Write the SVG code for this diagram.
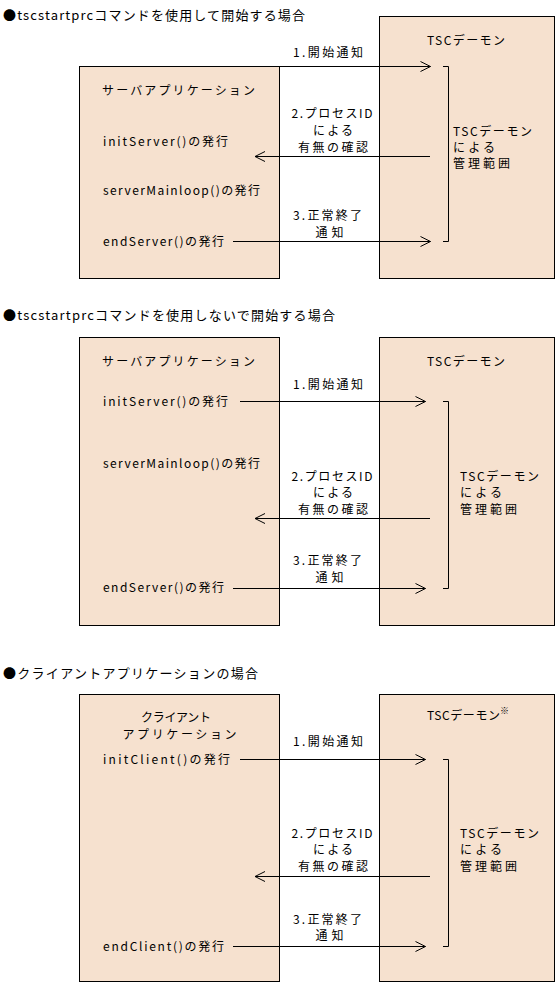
<svg xmlns="http://www.w3.org/2000/svg" width="557" height="985" viewBox="0 0 557 985">
<style>
  .box { fill: #F6E1CF; stroke: #000; stroke-width: 1; }
  text { font-family: "Noto Sans CJK JP", "Noto Sans", sans-serif; font-size: 12px; fill: #000; }
  .t { font-size: 13px; }
  .m { text-anchor: middle; }
  .ln { stroke: #000; stroke-width: 1; fill: none; }
  .arr { marker-end: url(#ah); }
</style>
<defs>
  <marker id="ah" markerUnits="userSpaceOnUse" markerWidth="12" markerHeight="12" refX="11" refY="6" orient="auto">
    <path d="M1,1 L11,6 L1,11" fill="none" stroke="#000" stroke-width="1"/>
  </marker>
</defs>

<!-- Section 1 -->
<text class="t" x="3" y="20" textLength="302" lengthAdjust="spacing">●tscstartprcコマンドを使用して開始する場合</text>
<g id="s1-server">
  <rect class="box" x="79.5" y="66.5" width="200" height="212"/>
  <text x="102" y="95" textLength="153" lengthAdjust="spacing">サーバアプリケーション</text>
  <text x="103" y="146" textLength="125" lengthAdjust="spacing">initServer()の発行</text>
  <text x="103" y="194.5" textLength="157" lengthAdjust="spacing">serverMainloop()の発行</text>
  <text x="103" y="246" textLength="121" lengthAdjust="spacing">endServer()の発行</text>
</g>
<g id="s1-tsc">
  <rect class="box" x="379.5" y="16.5" width="175" height="262"/>
  <text class="m" x="466" y="44.5" textLength="78" lengthAdjust="spacing">TSCデーモン</text>
  <text x="453" y="136" textLength="79" lengthAdjust="spacing">TSCデーモン</text>
  <text x="453" y="151.5" textLength="42" lengthAdjust="spacing">による</text>
  <text x="453" y="168" textLength="57" lengthAdjust="spacing">管理範囲</text>
</g>
<g id="s1-connectors">
  <line class="ln arr" x1="279.5" y1="66.5" x2="430.5" y2="66.5"/>
  <line class="ln arr" x1="430" y1="156.5" x2="255" y2="156.5"/>
  <line class="ln arr" x1="233" y1="241.5" x2="430.5" y2="241.5"/>
  <path class="ln" d="M443,66.5 H448.5 V241.5 H443"/>
  <text class="m" x="328" y="56.5" textLength="70" lengthAdjust="spacing">1.開始通知</text>
  <text class="m" x="332" y="118" textLength="81" lengthAdjust="spacing">2.プロセスID</text>
  <text class="m" x="333" y="134.5" textLength="40" lengthAdjust="spacing">による</text>
  <text class="m" x="333" y="151.5" textLength="70" lengthAdjust="spacing">有無の確認</text>
  <text class="m" x="327.5" y="219.5" textLength="69" lengthAdjust="spacing">3.正常終了</text>
  <text class="m" x="329.5" y="237" textLength="28" lengthAdjust="spacing">通知</text>
</g>

<!-- Section 2 -->
<text class="t" x="3" y="320" textLength="332" lengthAdjust="spacing">●tscstartprcコマンドを使用しないで開始する場合</text>
<g id="s2-server">
  <rect class="box" x="79.5" y="337.5" width="200" height="288"/>
  <text x="102" y="366" textLength="153" lengthAdjust="spacing">サーバアプリケーション</text>
  <text x="103" y="405.5" textLength="125" lengthAdjust="spacing">initServer()の発行</text>
  <text x="103" y="467.5" textLength="157" lengthAdjust="spacing">serverMainloop()の発行</text>
  <text x="103" y="592" textLength="121" lengthAdjust="spacing">endServer()の発行</text>
</g>
<g id="s2-tsc">
  <rect class="box" x="379.5" y="337.5" width="175" height="288"/>
  <text class="m" x="466" y="366" textLength="78" lengthAdjust="spacing">TSCデーモン</text>
  <text x="460" y="480.5" textLength="79" lengthAdjust="spacing">TSCデーモン</text>
  <text x="460" y="496.5" textLength="42" lengthAdjust="spacing">による</text>
  <text x="460" y="513.5" textLength="57" lengthAdjust="spacing">管理範囲</text>
</g>
<g id="s2-connectors">
  <line class="ln arr" x1="240" y1="401.5" x2="425.5" y2="401.5"/>
  <line class="ln arr" x1="430" y1="518.5" x2="255" y2="518.5"/>
  <line class="ln arr" x1="233" y1="588.5" x2="425.5" y2="588.5"/>
  <path class="ln" d="M443,401.5 H448.5 V588.5 H443"/>
  <text class="m" x="328" y="388.5" textLength="70" lengthAdjust="spacing">1.開始通知</text>
  <text class="m" x="332" y="480.5" textLength="81" lengthAdjust="spacing">2.プロセスID</text>
  <text class="m" x="333" y="496.5" textLength="40" lengthAdjust="spacing">による</text>
  <text class="m" x="333" y="513.5" textLength="70" lengthAdjust="spacing">有無の確認</text>
  <text class="m" x="327.5" y="565" textLength="69" lengthAdjust="spacing">3.正常終了</text>
  <text class="m" x="329.5" y="582" textLength="28" lengthAdjust="spacing">通知</text>
</g>

<!-- Section 3 -->
<text class="t" x="3" y="678" textLength="255" lengthAdjust="spacing">●クライアントアプリケーションの場合</text>
<g id="s3-client">
  <rect class="box" x="79.5" y="694.5" width="200" height="287"/>
  <text class="m" x="176" y="721.5" textLength="70" lengthAdjust="spacing">クライアント</text>
  <text class="m" x="179.5" y="738.5" textLength="114" lengthAdjust="spacing">アプリケーション</text>
  <text x="103" y="763.5" textLength="127" lengthAdjust="spacing">initClient()の発行</text>
  <text x="103" y="951" textLength="121" lengthAdjust="spacing">endClient()の発行</text>
</g>
<g id="s3-tsc">
  <rect class="box" x="379.5" y="694.5" width="175" height="287"/>
  <text x="427" y="719.5" textLength="73" lengthAdjust="spacing">TSCデーモン</text>
  <text x="500" y="714" style="font-size:9px">※</text>
  <text x="460" y="837.5" textLength="79" lengthAdjust="spacing">TSCデーモン</text>
  <text x="460" y="853.5" textLength="42" lengthAdjust="spacing">による</text>
  <text x="460" y="870.5" textLength="57" lengthAdjust="spacing">管理範囲</text>
</g>
<g id="s3-connectors">
  <line class="ln arr" x1="240" y1="759.5" x2="425.5" y2="759.5"/>
  <line class="ln arr" x1="430" y1="876.5" x2="255" y2="876.5"/>
  <line class="ln arr" x1="233" y1="946.5" x2="425.5" y2="946.5"/>
  <path class="ln" d="M443,759.5 H448.5 V946.5 H443"/>
  <text class="m" x="328" y="746" textLength="70" lengthAdjust="spacing">1.開始通知</text>
  <text class="m" x="332" y="837.5" textLength="81" lengthAdjust="spacing">2.プロセスID</text>
  <text class="m" x="333" y="853.5" textLength="40" lengthAdjust="spacing">による</text>
  <text class="m" x="333" y="871" textLength="70" lengthAdjust="spacing">有無の確認</text>
  <text class="m" x="327.5" y="923.5" textLength="69" lengthAdjust="spacing">3.正常終了</text>
  <text class="m" x="329.5" y="939.5" textLength="28" lengthAdjust="spacing">通知</text>
</g>
</svg>
